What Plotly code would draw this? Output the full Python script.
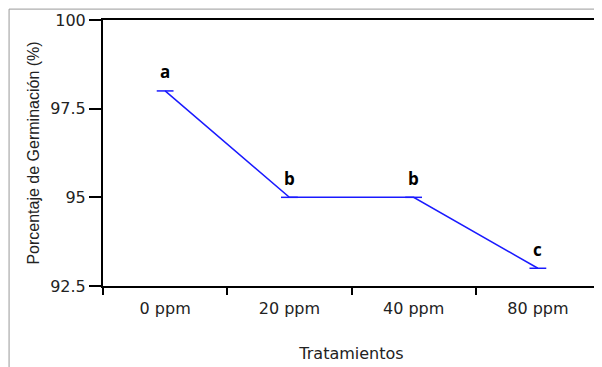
import plotly.graph_objects as go

categories = ["0 ppm", "20 ppm", "40 ppm", "80 ppm"]
germination = [98, 95, 95, 93]
letters = ["a", "b", "b", "c"]
y_ticks = [92.5, 95, 97.5, 100]
y_tick_labels = ["92.5", "95", "97.5", "100"]

fig = go.Figure()
fig.add_trace(go.Scatter(
    x=categories, y=germination, mode="lines+markers",
    line=dict(color="#1a1aff", width=1.5),
    marker=dict(symbol="line-ew", size=12, line=dict(color="#1a1aff", width=1.5)),
    showlegend=False, cliponaxis=False,
))
for c, v, t in zip(categories, germination, letters):
    fig.add_annotation(x=c, y=v, text="<b>" + t + "</b>", showarrow=False,
                       yshift=19, font=dict(family="Open Sans", size=17, color="black"))

fig.add_shape(type="rect", xref="paper", yref="paper", x0=-0.189, x1=1.2, y0=-0.6, y1=1.041,
              line=dict(color="#999999", width=1), fillcolor="rgba(0,0,0,0)", layer="above")

fig.update_layout(
    width=594, height=359,
    margin=dict(l=95, r=2, t=12, b=81, autoexpand=False),
    paper_bgcolor="white", plot_bgcolor="white",
    font=dict(family="DejaVu Sans", size=16, color="#222"),
    xaxis=dict(
        type="category", range=[-0.5, 3.5], tickson="boundaries",
        ticks="outside", ticklen=7, tickwidth=2, tickcolor="black",
        showline=True, linecolor="black", linewidth=2, mirror=True,
        showgrid=False, zeroline=False, automargin=False,
        tickfont=dict(size=16), ticklabelstandoff=7,
        title=dict(text="Tratamientos", standoff=31, font=dict(size=16)),
    ),
    yaxis=dict(
        range=[92.5, 100], tickvals=y_ticks, ticktext=y_tick_labels,
        ticks="outside", ticklen=12, tickwidth=2, tickcolor="black",
        showline=True, linecolor="black", linewidth=2, mirror=True,
        showgrid=False, zeroline=False, automargin=False,
        tickfont=dict(size=16),
        title=dict(text="Porcentaje de Germinación (%)", standoff=7,
                   font=dict(family="Liberation Sans", size=16)),
    ),
)
fig.write_html("out.html")
